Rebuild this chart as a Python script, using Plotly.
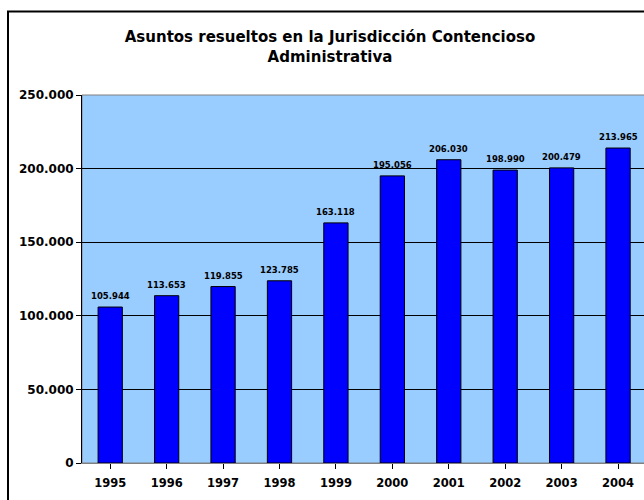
import plotly.graph_objects as go

years = ["1995", "1996", "1997", "1998", "1999", "2000", "2001", "2002", "2003", "2004"]
asuntos = [105944, 113653, 119855, 123785, 163118, 195056, 206030, 198990, 200479, 213965]
y_ticks = [0, 50000, 100000, 150000, 200000, 250000]

FONT = "DejaVu Sans, Arial, sans-serif"
W, H = 644, 500
L, R, T, B = 82, 0, 95, 37
pw = W - L - R
ph = H - T - B


def fmt(v):
    return f"{v:,}".replace(",", ".")


fig = go.Figure()
fig.add_trace(go.Bar(
    x=list(range(len(years))), y=asuntos,
    width=0.43,
    marker=dict(color="#0000FF", line=dict(color="#000000", width=1)),
    hoverinfo="skip",
))

for i, v in enumerate(asuntos):
    fig.add_annotation(x=i, y=v, text=f"<b>{fmt(v)}</b>", showarrow=False, yshift=11,
                       font=dict(family=FONT, size=8.5, color="#000000"))

# plot area frame (gray)
fig.add_shape(type="rect", xref="paper", yref="paper", x0=0, x1=1.01, y0=0, y1=1,
              line=dict(color="#808080", width=1), layer="below")
# outer chart border
fig.add_shape(type="rect", xref="paper", yref="paper",
              x0=(8 - L) / pw, x1=1.05, y0=-0.2, y1=(H - B - 11.5) / ph,
              line=dict(color="#000000", width=2))

fig.update_layout(
    width=W, height=H,
    margin=dict(l=L, r=R, t=T, b=B, pad=0),
    paper_bgcolor="#FFFFFF", plot_bgcolor="#99CCFF",
    showlegend=False,
    font=dict(family=FONT, color="#000000"),
    title=dict(text="<b>Asuntos resueltos en la Jurisdicción Contencioso<br>Administrativa</b>",
               x=330 / W, xanchor="center", xref="container",
               y=1 - 42 / H, yanchor="top", yref="container",
               font=dict(family=FONT, size=15, color="#000000")),
    xaxis=dict(
        range=[-0.5, 9.46],
        tickmode="array", tickvals=list(range(len(years))), ticktext=[f"<b>{y}</b>" for y in years],
        tickson="boundaries", ticks="outside", ticklen=5, tickcolor="#000000",
        ticklabelstandoff=4,
        showgrid=False, showline=True, linecolor="#808080", linewidth=1,
        tickfont=dict(family=FONT, size=11.5, color="#000000"),
        zeroline=False, fixedrange=True,
    ),
    yaxis=dict(
        range=[0, 250000],
        tickmode="array", tickvals=y_ticks, ticktext=[f"<b>{fmt(t)}</b>" for t in y_ticks],
        ticks="outside", ticklen=5, tickcolor="#000000",
        showgrid=True, gridcolor="#000000", gridwidth=1,
        showline=True, linecolor="#000000", linewidth=1,
        tickfont=dict(family=FONT, size=12, color="#000000"),
        zeroline=False, fixedrange=True,
    ),
)

fig.write_html(
    "out.html",
    config={"displayModeBar": False},
    post_script="document.body.style.margin='0';document.body.style.overflow='hidden';",
)
